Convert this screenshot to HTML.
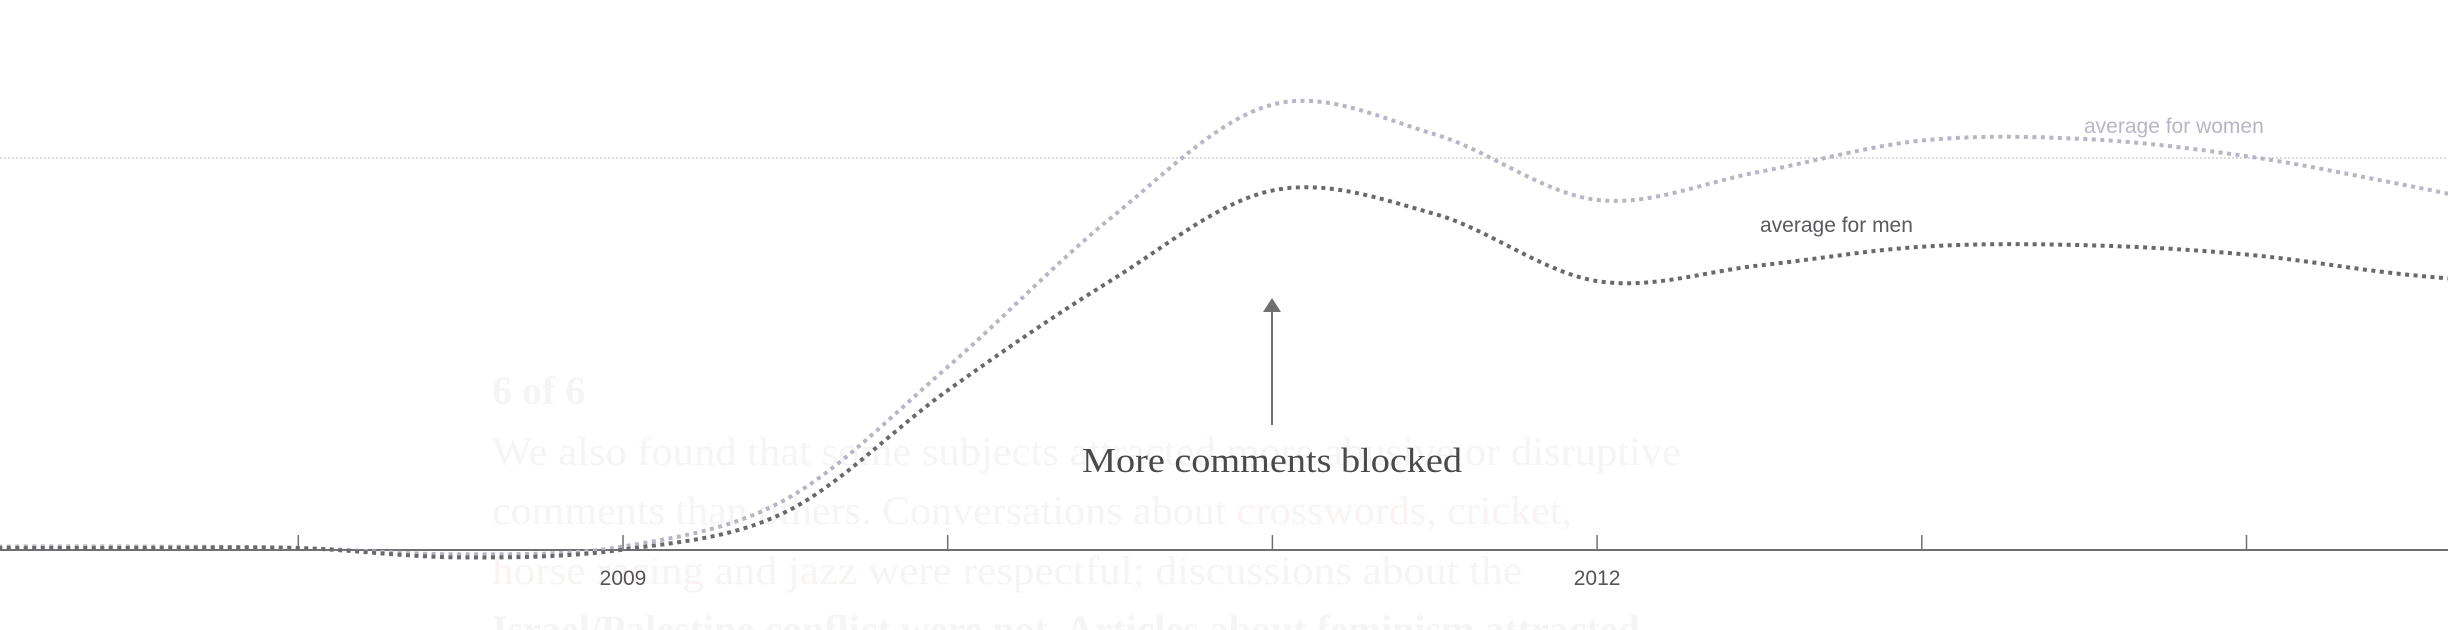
<!DOCTYPE html>
<html><head><meta charset="utf-8"><style>
html,body{margin:0;padding:0;background:#fff;width:2448px;height:630px;overflow:hidden}
svg{display:block}
</style></head><body>
<svg id="chart" width="2448" height="630" viewBox="0 0 2448 630" xmlns="http://www.w3.org/2000/svg">
<g font-family="Liberation Serif, serif" font-size="40" fill="#f5f5f5">
<text x="492" y="404" font-weight="bold">6 of 6</text>
<text x="492" y="465" textLength="1189" lengthAdjust="spacingAndGlyphs">We also found that some subjects attracted more abusive or disruptive</text>
<text x="492" y="524" textLength="1080" lengthAdjust="spacingAndGlyphs">comments than others. Conversations about <tspan fill="#f9f3f3">crosswords</tspan>, <tspan fill="#f9f3f3">cricket</tspan>,</text>
<text x="492" y="584" textLength="1030" lengthAdjust="spacingAndGlyphs"><tspan fill="#f9f3f3">horse racing</tspan> and <tspan fill="#f9f3f3">jazz</tspan> were respectful; discussions about the</text>
<text x="492" y="643" font-weight="bold">Israel/Palestine conflict were not. Articles about feminism attracted</text>
</g>
<line x1="0" y1="158" x2="2448" y2="158" stroke="#cfcfcf" stroke-width="1.5" stroke-dasharray="2 2"/>
<g id="axis"></g>
<g id="series"></g>
<g>
<line x1="1272" y1="310" x2="1272" y2="425" stroke="#707070" stroke-width="2"/>
<polygon points="1272,298 1263,312 1281,312" fill="#707070"/>
<text x="1272" y="472" text-anchor="middle" font-family="Liberation Serif, serif" font-size="35" fill="#4a4a4a" textLength="380" lengthAdjust="spacingAndGlyphs">More comments blocked</text>
</g>
<text x="2084" y="133" font-family="Liberation Sans, sans-serif" font-size="21" fill="#b8b6c6">average for women</text>
<text x="1760" y="232" font-family="Liberation Sans, sans-serif" font-size="21" fill="#5a5a5f">average for men</text>
</svg>
<script>
const years=[2006.5,2007,2007.5,2008,2008.5,2009,2009.5,2010,2010.5,2011,2011.5,2012,2012.5,2013,2013.5,2014,2014.5,2015,2015.5];
const womenValues=[2,2,2,1,-3,2,32,117,212,285,266,224,242,262,263,252,233,212,195];
const menValues=[1,1,1,1,-5,0,24,102,172,230,215,172,182,194,195,189,176,168,160];
const tickYears=[2008,2009,2010,2011,2012,2013,2014];
const tickLabels=["","2009","","","2012","",""];
const NS="http://www.w3.org/2000/svg";
function xs(y){return 623+(y-2009)*324.7;}
function ys(v){return 549.6-v*1.5612;}
const axis=document.getElementById('axis');
const base=document.createElementNS(NS,'line');


base.setAttribute('x1',0);base.setAttribute('x2',2448);base.setAttribute('y1',550);base.setAttribute('y2',550);
base.setAttribute('stroke','#707070');base.setAttribute('stroke-width','2');
axis.appendChild(base);
tickYears.forEach((t,i)=>{
 const l=document.createElementNS(NS,'line');
 
 
 l.setAttribute('x1',xs(t));l.setAttribute('x2',xs(t));l.setAttribute('y1',535);l.setAttribute('y2',550);
 l.setAttribute('stroke','#707070');l.setAttribute('stroke-width','1.5');
 axis.appendChild(l);
 if(tickLabels[i]){
  const tx=document.createElementNS(NS,'text');
  
  
  tx.setAttribute('x',xs(t));tx.setAttribute('y',585);tx.setAttribute('text-anchor','middle');
  tx.setAttribute('font-family','Liberation Sans, sans-serif');tx.setAttribute('font-size','21');tx.setAttribute('fill','#555');
  tx.textContent=tickLabels[i];axis.appendChild(tx);
 }
});
function pathFor(vals){
 const p=years.map((y,i)=>[xs(y),ys(vals[i])]);
 let d='M'+p[0][0]+','+p[0][1];
 for(let i=0;i<p.length-1;i++){
  const p0=p[i-1]||p[i],p1=p[i],p2=p[i+1],p3=p[i+2]||p2;
  const c1=[p1[0]+(p2[0]-p0[0])/6,p1[1]+(p2[1]-p0[1])/6];
  const c2=[p2[0]-(p3[0]-p1[0])/6,p2[1]-(p3[1]-p1[1])/6];
  d+=' C'+c1+' '+c2+' '+p2;
 }
 return d;
}
const series=document.getElementById('series');
[[womenValues,'#b8b6c6','line-average-women'],[menValues,'#69686d','line-average-men']].forEach(s=>{
 const path=document.createElementNS(NS,'path');
 
 
 path.setAttribute('d',pathFor(s[0]));
 path.setAttribute('fill','none');path.setAttribute('stroke',s[1]);
 path.setAttribute('stroke-width','4');path.setAttribute('stroke-dasharray','4 4.5');
 series.appendChild(path);
});
</script>
</body></html>
